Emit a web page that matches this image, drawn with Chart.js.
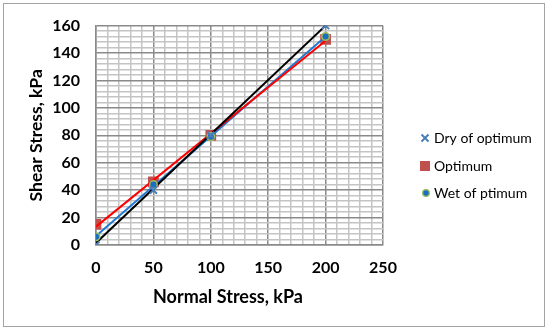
<!DOCTYPE html>
<html><head><meta charset="utf-8">
<script src="https://cdn.jsdelivr.net/npm/chart.js@4.4.0/dist/chart.umd.min.js"></script>
<style>
html,body{margin:0;padding:0;background:#fff;}
#wrap{position:relative;width:550px;height:332px;overflow:hidden;}
#frame{position:absolute;left:3px;top:3px;width:540px;height:322px;border:1.5px solid #a3a3a3;pointer-events:none;}
canvas{display:block;}
</style></head><body>
<div id="wrap"><canvas id="c" width="550" height="332"></canvas><div id="frame"></div></div>
<script>
// ---- data ----
const normalStress = [0, 50, 100, 200];
const dryOfOptimum = [0, 40, 80, 160];
const optimum      = [15, 46, 80, 150];
const wetOfOptimum = [6, 44, 79, 152];
// trendline end values (at x = 0 and x = 200)
const trendX       = [0, 200];
const dryTrend     = [1.5, 160];
const optimumTrend = [13.4, 149];
const wetTrend     = [6.6, 152];
const seriesNames  = ['Dry of optimum', 'Optimum', 'Wet of ptimum'];
const xTickLabels  = [0, 50, 100, 150, 200, 250];
const yTickLabels  = [0, 20, 40, 60, 80, 100, 120, 140, 160];
const xTitle = 'Normal Stress, kPa';
const yTitle = 'Shear Stress, kPa';

const FONT = 'Lato, "Open Sans", sans-serif';
const pts = (xs, ys) => xs.map((x, i) => ({x: x, y: ys[i]}));

const colDry = '#4a7ebb', colOpt = '#c0504d', colWetFill = '#1a6fc2', colWetBorder = '#9bbb59';
const majorGrid = '#8a8a8a', minorGrid = '#c4c4c4';

const legendPlugin = {
  id: 'customLegend',
  afterDraw(chart) {
    const ctx = chart.ctx;
    const x0 = 425, tx = 434, ys = [138, 166, 193];
    ctx.save();
    ctx.font = '14px ' + FONT;
    ctx.fillStyle = '#000';
    ctx.textBaseline = 'middle';
    ctx.textAlign = 'left';
    seriesNames.forEach((n, i) => ctx.fillText(n, tx, ys[i]));
    // x axis title
    ctx.font = 'bold 18px ' + FONT;
    ctx.textAlign = 'center';
    ctx.fillText(xTitle, 228, 297);
    // dry marker: X
    ctx.strokeStyle = colDry; ctx.lineWidth = 2;
    ctx.beginPath();
    ctx.moveTo(x0 - 3.5, ys[0] - 3.5); ctx.lineTo(x0 + 3.5, ys[0] + 3.5);
    ctx.moveTo(x0 + 3.5, ys[0] - 3.5); ctx.lineTo(x0 - 3.5, ys[0] + 3.5);
    ctx.stroke();
    // optimum marker: square
    ctx.fillStyle = colOpt;
    ctx.fillRect(x0 - 5, ys[1] - 5, 10, 10);
    // wet marker: circle
    ctx.beginPath(); ctx.arc(x0 + 1, ys[2], 3.3, 0, Math.PI * 2);
    ctx.fillStyle = colWetFill; ctx.fill();
    ctx.lineWidth = 1.3; ctx.strokeStyle = colWetBorder; ctx.stroke();
    ctx.restore();
  }
};

new Chart(document.getElementById('c'), {
  type: 'scatter',
  data: {
    datasets: [
      { label: seriesNames[0], data: pts(normalStress, dryOfOptimum), showLine: false,
        pointStyle: 'crossRot', pointRadius: 5, pointBorderWidth: 2,
        borderColor: colDry, backgroundColor: colDry, order: 0 },
      { label: seriesNames[1], data: pts(normalStress, optimum), showLine: false,
        pointStyle: 'rect', pointRadius: 7.6, pointBorderWidth: 0,
        borderColor: colOpt, backgroundColor: colOpt, order: 2 },
      { label: seriesNames[2], data: pts(normalStress, wetOfOptimum), showLine: false,
        pointStyle: 'circle', pointRadius: 3.8, pointBorderWidth: 1.5,
        borderColor: colWetBorder, backgroundColor: colWetFill, order: 0 },
      { label: 'dry trend', data: pts(trendX, dryTrend), showLine: true, pointRadius: 0,
        borderColor: '#000000', borderWidth: 2, order: 1 },
      { label: 'optimum trend', data: pts(trendX, optimumTrend), showLine: true, pointRadius: 0,
        borderColor: '#ff0000', borderWidth: 2, order: 1 },
      { label: 'wet trend', data: pts(trendX, wetTrend), showLine: true, pointRadius: 0,
        borderColor: '#1f78d1', borderWidth: 2, order: 1 }
    ]
  },
  options: {
    responsive: false,
    animation: false,
    devicePixelRatio: 1,
    layout: { padding: { left: 0, top: 22, right: 167, bottom: 0 } },
    plugins: { legend: { display: false }, tooltip: { enabled: false } },
    scales: {
      x: {
        type: 'linear', min: 0, max: 250,
        afterFit(s) { s.height = 87; },
        ticks: {
          stepSize: 10, autoSkip: false, maxRotation: 0, padding: 13,
          color: '#000', font: { family: FONT, size: 16, weight: 'bold' },
          callback: v => xTickLabels.includes(v) ? String(v) : ''
        },
        grid: {
          drawTicks: false, lineWidth: 1.5,
          color: c => xTickLabels.includes(c.tick.value) ? majorGrid : minorGrid
        },
        border: { display: true, color: majorGrid, width: 1.5 },
        title: { display: false }
      },
      y: {
        type: 'linear', min: 0, max: 160,
        afterFit(s) { s.width = 96; },
        ticks: {
          stepSize: 4, autoSkip: false, padding: 16,
          color: '#000', font: { family: FONT, size: 16, weight: 'bold' },
          callback: v => yTickLabels.includes(v) ? String(v) : ''
        },
        grid: {
          drawTicks: false, lineWidth: 1.5,
          color: c => yTickLabels.includes(c.tick.value) ? majorGrid : minorGrid
        },
        border: { display: true, color: majorGrid, width: 1.5 },
        title: { display: true, text: yTitle, color: '#000',
          font: { family: FONT, size: 17.5, weight: 'bold' }, padding: { top: 26, bottom: 0 } }
      }
    }
  },
  plugins: [legendPlugin]
});
</script>
</body></html>
